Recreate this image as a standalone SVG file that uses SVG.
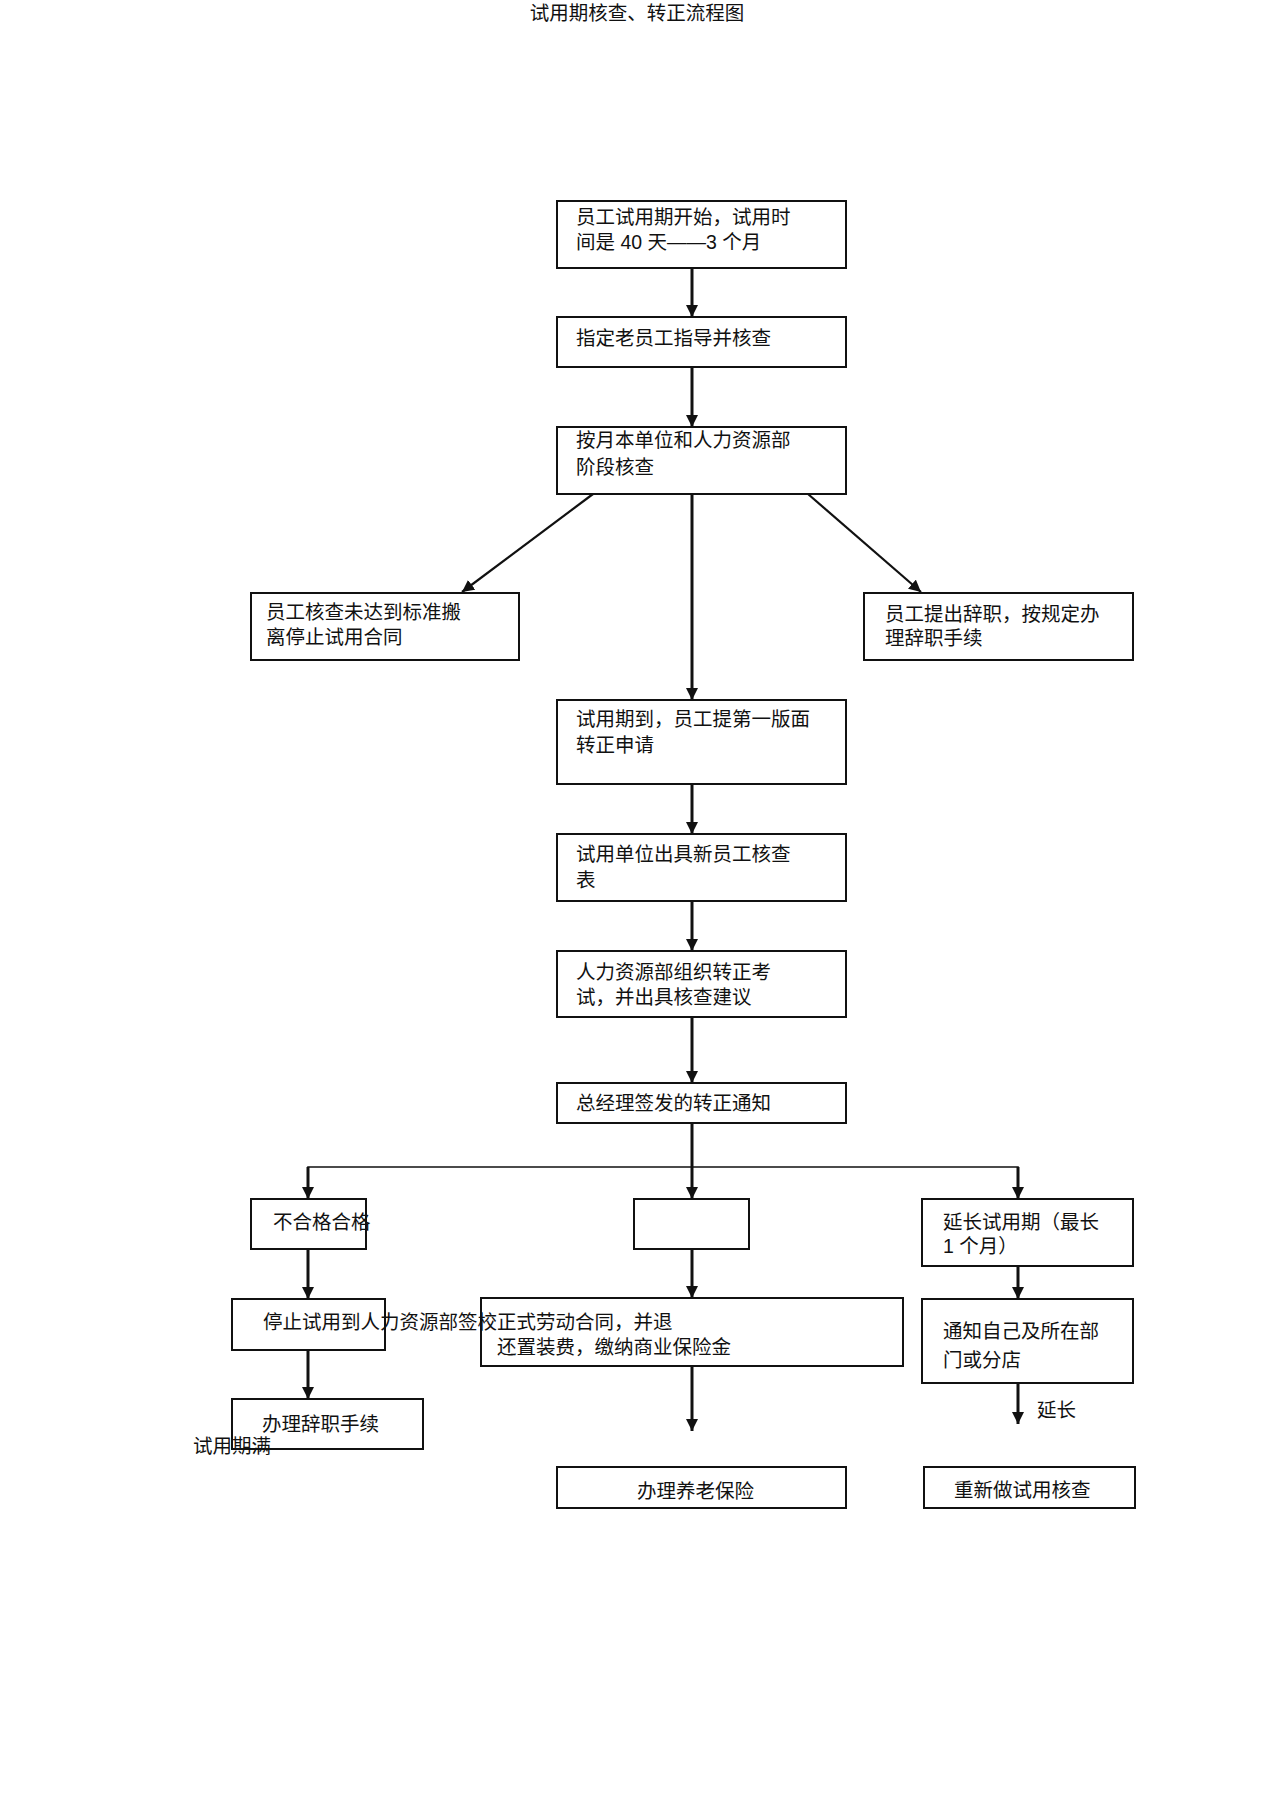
<svg xmlns="http://www.w3.org/2000/svg" width="1274" height="1804" viewBox="0 0 1274 1804">
<style>
text{font-family:"Liberation Sans","Noto Sans CJK SC",sans-serif;font-size:19.5px;fill:#111}
.box{fill:#fff;stroke:#111;stroke-width:2}
.main{stroke:#111;stroke-width:3;fill:none}
.thin{stroke:#111;stroke-width:1.6;fill:none}
.diag{stroke:#111;stroke-width:2.2;fill:none}
</style>
<defs>
<marker id="ah" viewBox="0 0 12 12" markerUnits="userSpaceOnUse" markerWidth="12" markerHeight="12" refX="12" refY="6" orient="auto">
<path d="M0,0 L12,6 L0,12 z" fill="#111"/>
</marker>
</defs>
<rect width="1274" height="1804" fill="#fff"/>
<text x="637" y="20" text-anchor="middle" font-size="19">试用期核查、转正流程图</text>

<g id="connectors">
<line class="main" x1="692" y1="268" x2="692" y2="317" marker-end="url(#ah)"/>
<line class="main" x1="692" y1="367" x2="692" y2="427" marker-end="url(#ah)"/>
<line class="main" x1="692" y1="494" x2="692" y2="700" marker-end="url(#ah)"/>
<line class="diag" x1="593" y1="494" x2="462" y2="592" marker-end="url(#ah)"/>
<line class="diag" x1="808" y1="494" x2="921" y2="592" marker-end="url(#ah)"/>
<line class="main" x1="692" y1="784" x2="692" y2="834" marker-end="url(#ah)"/>
<line class="main" x1="692" y1="901" x2="692" y2="951" marker-end="url(#ah)"/>
<line class="main" x1="692" y1="1017" x2="692" y2="1083" marker-end="url(#ah)"/>
<line class="main" x1="692" y1="1117" x2="692" y2="1199" marker-end="url(#ah)"/>
<polyline class="thin" points="308,1199 308,1167 1018,1167 1018,1199"/>
<line class="main" x1="308" y1="1167" x2="308" y2="1199" marker-end="url(#ah)"/>
<line class="main" x1="1018" y1="1167" x2="1018" y2="1199" marker-end="url(#ah)"/>
<line class="main" x1="308" y1="1249" x2="308" y2="1299" marker-end="url(#ah)"/>
<line class="main" x1="308" y1="1350" x2="308" y2="1399" marker-end="url(#ah)"/>
<line class="main" x1="692" y1="1249" x2="692" y2="1298" marker-end="url(#ah)"/>
<line class="main" x1="692" y1="1366" x2="692" y2="1431" marker-end="url(#ah)"/>
<line class="main" x1="1018" y1="1266" x2="1018" y2="1299" marker-end="url(#ah)"/>
<line class="main" x1="1018" y1="1383" x2="1018" y2="1424" marker-end="url(#ah)"/>
</g>

<g id="n1"><rect class="box" x="557" y="201" width="289" height="67"/>
<text x="576" y="224">员工试用期开始，试用时</text><text x="576" y="249">间是 40 天——3 个月</text></g>
<g id="n2"><rect class="box" x="557" y="317" width="289" height="50"/>
<text x="576" y="345">指定老员工指导并核查</text></g>
<g id="n3"><rect class="box" x="557" y="427" width="289" height="67"/>
<text x="576" y="447">按月本单位和人力资源部</text><text x="576" y="474">阶段核查</text></g>
<g id="n4"><rect class="box" x="251" y="593" width="268" height="67"/>
<text x="266" y="619">员工核查未达到标准搬</text><text x="266" y="644">离停止试用合同</text></g>
<g id="n5"><rect class="box" x="864" y="593" width="269" height="67"/>
<text x="885" y="621">员工提出辞职，按规定办</text><text x="885" y="645">理辞职手续</text></g>
<g id="n6"><rect class="box" x="557" y="700" width="289" height="84"/>
<text x="576" y="726">试用期到，员工提第一版面</text><text x="576" y="752">转正申请</text></g>
<g id="n7"><rect class="box" x="557" y="834" width="289" height="67"/>
<text x="576" y="861">试用单位出具新员工核查</text><text x="576" y="887">表</text></g>
<g id="n8"><rect class="box" x="557" y="951" width="289" height="66"/>
<text x="576" y="979">人力资源部组织转正考</text><text x="576" y="1004">试，并出具核查建议</text></g>
<g id="n9"><rect class="box" x="557" y="1083" width="289" height="40"/>
<text x="576" y="1110">总经理签发的转正通知</text></g>
<g id="n10"><rect class="box" x="251" y="1199" width="115" height="50"/></g>
<g id="n11"><rect class="box" x="634" y="1199" width="115" height="50"/></g>
<g id="n12"><rect class="box" x="922" y="1199" width="211" height="67"/>
<text x="943" y="1229">延长试用期（最长</text><text x="943" y="1253">1 个月）</text></g>
<g id="n13"><rect class="box" x="232" y="1299" width="153" height="51"/></g>
<g id="n14"><rect class="box" x="481" y="1298" width="422" height="68"/>
<text x="497" y="1354">还置装费，缴纳商业保险金</text></g>
<g id="n15"><rect class="box" x="922" y="1299" width="211" height="84"/>
<text x="943" y="1338">通知自己及所在部</text><text x="943" y="1367">门或分店</text></g>
<g id="n16"><rect class="box" x="232" y="1399" width="191" height="50"/>
<text x="262" y="1431">办理辞职手续</text></g>
<g id="n17"><rect class="box" x="557" y="1467" width="289" height="41"/>
<text x="637" y="1498">办理养老保险</text></g>
<g id="n18"><rect class="box" x="924" y="1467" width="211" height="41"/>
<text x="954" y="1497">重新做试用核查</text></g>

<g id="labels">
<text x="273" y="1229">不合格合格</text>
<text x="263" y="1329">停止试用到人力资源部签校正式劳动合同，并退</text>
<text x="193" y="1453">试用期满</text>
<text x="1037" y="1417">延长</text>
</g>
</svg>
